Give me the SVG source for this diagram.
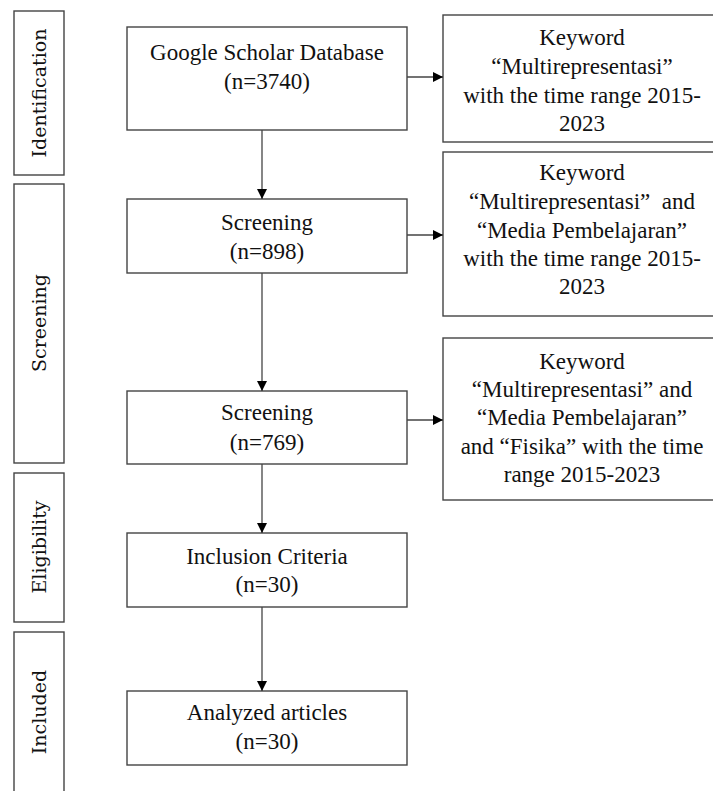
<svg xmlns="http://www.w3.org/2000/svg" width="713" height="791" viewBox="0 0 713 791">
<style>
  .box { fill: #ffffff; stroke: #444444; stroke-width: 1.4; }
  .t { font-family: "Liberation Serif", "Times New Roman", serif; font-size: 23px; fill: #111111; text-anchor: middle; }
  .lbl { font-family: "DejaVu Serif", "Liberation Serif", serif; font-size: 19px; fill: #111111; text-anchor: middle; }
  .conn { stroke: #444444; stroke-width: 1.3; fill: none; marker-end: url(#arrow); }
</style>
<defs>
  <marker id="arrow" viewBox="0 0 10 10" refX="10" refY="5" markerWidth="10" markerHeight="10" markerUnits="userSpaceOnUse" orient="auto">
    <path d="M0,0 L10,5 L0,10 Z" fill="#000000"/>
  </marker>
</defs>

<rect width="713" height="791" fill="#ffffff"/>

<g id="phase-identification">
  <rect class="box" x="14" y="11" width="50" height="164"/>
  <text class="lbl" transform="translate(46,93) rotate(-90)">Identification</text>
</g>
<g id="phase-screening">
  <rect class="box" x="14" y="184" width="50" height="279"/>
  <text class="lbl" transform="translate(46,323) rotate(-90)">Screening</text>
</g>
<g id="phase-eligibility">
  <rect class="box" x="14" y="473" width="50" height="149"/>
  <text class="lbl" transform="translate(46,547) rotate(-90)">Eligibility</text>
</g>
<g id="phase-included">
  <rect class="box" x="14" y="632" width="50" height="200"/>
  <text class="lbl" transform="translate(46,712) rotate(-90)">Included</text>
</g>

<g id="google-scholar">
  <rect class="box" x="127" y="27" width="280" height="103"/>
  <text class="t" x="267" y="60">Google Scholar Database</text>
  <text class="t" x="267" y="89">(n=3740)</text>
</g>
<g id="screening-1">
  <rect class="box" x="127" y="199" width="280" height="74"/>
  <text class="t" x="267" y="230">Screening</text>
  <text class="t" x="267" y="259">(n=898)</text>
</g>
<g id="screening-2">
  <rect class="box" x="127" y="391" width="280" height="73"/>
  <text class="t" x="267" y="420">Screening</text>
  <text class="t" x="267" y="450">(n=769)</text>
</g>
<g id="inclusion">
  <rect class="box" x="127" y="533" width="280" height="74"/>
  <text class="t" x="267" y="564">Inclusion Criteria</text>
  <text class="t" x="267" y="592">(n=30)</text>
</g>
<g id="analyzed">
  <rect class="box" x="127" y="691" width="280" height="74"/>
  <text class="t" x="267" y="720">Analyzed articles</text>
  <text class="t" x="267" y="749">(n=30)</text>
</g>

<g id="keyword-1">
  <rect class="box" x="443" y="15" width="290" height="127"/>
  <text class="t" x="582" y="45">Keyword</text>
  <text class="t" x="582" y="74">“Multirepresentasi”</text>
  <text class="t" x="582" y="103">with the time range 2015-</text>
  <text class="t" x="582" y="131">2023</text>
</g>
<g id="keyword-2">
  <rect class="box" x="443" y="152" width="290" height="164"/>
  <text class="t" x="582" y="180">Keyword</text>
  <text class="t" x="582" y="209">“Multirepresentasi”&#160; and</text>
  <text class="t" x="582" y="238">“Media Pembelajaran”</text>
  <text class="t" x="582" y="266">with the time range 2015-</text>
  <text class="t" x="582" y="294">2023</text>
</g>
<g id="keyword-3">
  <rect class="box" x="443" y="338" width="290" height="162"/>
  <text class="t" x="582" y="369">Keyword</text>
  <text class="t" x="582" y="397">“Multirepresentasi” and</text>
  <text class="t" x="582" y="425">“Media Pembelajaran”</text>
  <text class="t" x="582" y="454">and “Fisika” with the time</text>
  <text class="t" x="582" y="482">range 2015-2023</text>
</g>

<g id="connectors">
  <line class="conn" x1="262" y1="130" x2="262" y2="199"/>
  <line class="conn" x1="262" y1="273" x2="262" y2="391"/>
  <line class="conn" x1="262" y1="464" x2="262" y2="533"/>
  <line class="conn" x1="262" y1="607" x2="262" y2="691"/>
  <line class="conn" x1="407" y1="77" x2="443" y2="77"/>
  <line class="conn" x1="407" y1="235" x2="443" y2="235"/>
  <line class="conn" x1="407" y1="420" x2="443" y2="420"/>
</g>
</svg>
